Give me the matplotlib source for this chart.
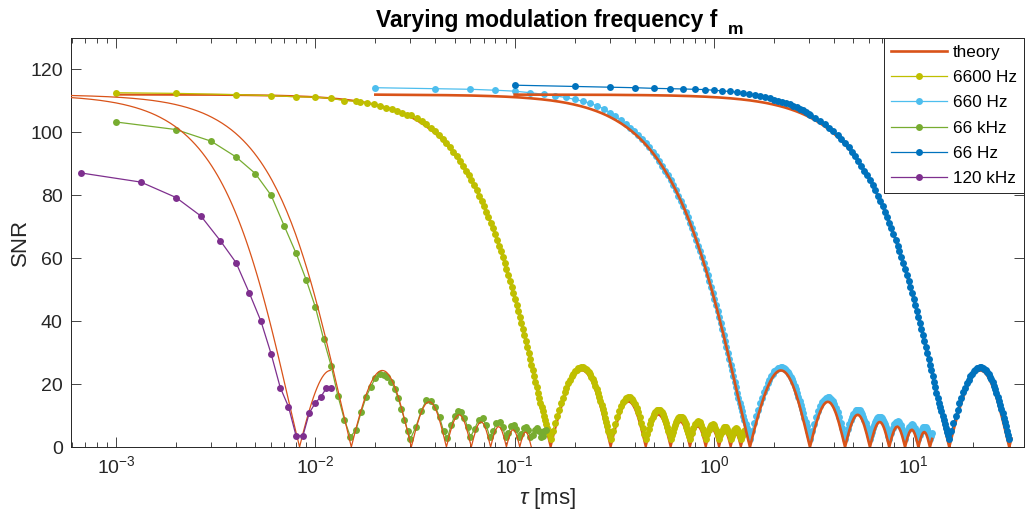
import numpy as np
import matplotlib
matplotlib.use("Agg")
import matplotlib.pyplot as plt
from matplotlib.ticker import FixedLocator, LogLocator, NullFormatter
from matplotlib.lines import Line2D

plt.rcParams['font.family'] = ['Liberation Sans', 'DejaVu Sans']
plt.rcParams['mathtext.fontset'] = 'custom'
plt.rcParams['mathtext.rm'] = 'Liberation Sans'
plt.rcParams['mathtext.it'] = 'Liberation Sans:italic'
plt.rcParams['mathtext.bf'] = 'Liberation Sans:bold'

# ---------------- data ----------------
series_labels = ['6600 Hz', '660 Hz', '66 kHz', '66 Hz', '120 kHz']
freq_khz = [6.6, 0.66, 66.0, 0.066, 120.0]
theory_amp = 112.0

# normalised profile: u = f * tau
prof_u = [0.005, 0.01, 0.02, 0.03, 0.04, 0.05, 0.06, 0.07, 0.08, 0.09,
          0.10, 0.11, 0.12, 0.13, 0.14, 0.15, 0.16, 0.17, 0.18, 0.19,
          0.2, 0.2125, 0.225, 0.2375, 0.25, 0.2625, 0.275, 0.2875,
          0.3, 0.3125, 0.325, 0.3375, 0.35, 0.3625, 0.375, 0.3875,
          0.4, 0.4125, 0.425, 0.4375, 0.45, 0.4625, 0.475, 0.4875,
          0.5, 0.5125, 0.525, 0.5375, 0.55, 0.5625, 0.575, 0.5875,
          0.6, 0.6125, 0.625, 0.6375, 0.65, 0.6625, 0.675, 0.6875,
          0.7, 0.7125, 0.725, 0.7375, 0.75, 0.7625, 0.775, 0.7875,
          0.8, 0.8125, 0.825, 0.8375, 0.85, 0.8625, 0.875, 0.8875,
          0.9, 0.9125, 0.925, 0.9375, 0.95, 0.9625, 0.975, 0.9875, 1.0,
          1.025, 1.05, 1.075, 1.1, 1.125, 1.15, 1.175, 1.2, 1.225, 1.25,
          1.275, 1.3, 1.325, 1.35, 1.375, 1.4, 1.425, 1.45, 1.475, 1.5,
          1.525, 1.55, 1.575, 1.6, 1.625, 1.65, 1.675, 1.7, 1.725, 1.75,
          1.775, 1.8, 1.825, 1.85, 1.875, 1.9, 1.925, 1.95, 1.975, 2.0,
          2.05, 2.1, 2.15, 2.2, 2.25, 2.3, 2.35, 2.4, 2.45, 2.5,
          2.55, 2.6, 2.65, 2.7, 2.75, 2.8, 2.85, 2.9, 2.95, 3.0,
          3.05, 3.1, 3.15, 3.2, 3.25, 3.3, 3.35, 3.4, 3.45, 3.5,
          3.55, 3.6, 3.65, 3.7, 3.75, 3.8, 3.85, 3.9, 3.95, 4.0,
          4.05, 4.1, 4.15, 4.2, 4.25, 4.3, 4.35, 4.4, 4.45, 4.5,
          4.55, 4.6, 4.65, 4.7, 4.75, 4.8, 4.85, 4.9, 4.95, 5.0,
          5.1, 5.2, 5.3, 5.4, 5.5, 5.6, 5.7, 5.8, 5.9, 6.0,
          6.1, 6.2, 6.3, 6.4, 6.5, 6.6, 6.7, 6.8, 6.9, 7.0,
          7.1, 7.2, 7.3, 7.4, 7.5, 7.6, 7.7, 7.8, 7.9, 8.0,
          8.1, 8.2, 8.3, 8.4, 8.5, 8.6, 8.7, 8.8, 8.9, 9.0,
          9.1, 9.2, 9.3, 9.4, 9.5, 9.6]

prof_theory = [112.00, 111.98, 111.93, 111.83, 111.71, 111.54, 111.34, 111.10, 110.82, 110.51,
               110.17, 109.78, 109.37, 108.91, 108.42, 107.90, 107.34, 106.75, 106.13, 105.47,
               104.77, 103.86, 102.90, 101.89, 100.84, 99.73, 98.58, 97.38,
               96.14, 94.86, 93.53, 92.16, 90.76, 89.31, 87.83, 86.32,
               84.77, 83.18, 81.57, 79.92, 78.25, 76.55, 74.82, 73.07,
               71.30, 69.51, 67.70, 65.87, 64.02, 62.16, 60.29, 58.40,
               56.51, 54.61, 52.70, 50.79, 48.87, 46.95, 45.03, 43.12,
               41.20, 39.29, 37.39, 35.50, 33.61, 31.74, 29.88, 28.03,
               26.19, 24.38, 22.58, 20.80, 19.04, 17.31, 15.59, 13.90,
               12.24, 10.61, 9.00, 7.42, 5.87, 4.35, 2.87, 1.42, 0.00,
               2.73, 5.31, 7.74, 10.02, 12.13, 14.07, 15.85, 17.46, 18.90, 20.17,
               21.26, 22.19, 22.94, 23.53, 23.95, 24.22, 24.33, 24.28, 24.10, 23.77,
               23.31, 22.72, 22.01, 21.19, 20.27, 19.25, 18.15, 16.97, 15.72, 14.41,
               13.04, 11.64, 10.21, 8.75, 7.28, 5.80, 4.32, 2.86, 1.42, 0.00,
               2.72, 5.25, 7.53, 9.53, 11.20, 12.54, 13.52, 14.13, 14.37, 14.26,
               13.81, 13.04, 11.99, 10.68, 9.17, 7.48, 5.68, 3.80, 1.89, 0.00,
               1.83, 3.55, 5.14, 6.55, 7.76, 8.74, 9.48, 9.97, 10.21, 10.19,
               9.92, 9.42, 8.70, 7.80, 6.72, 5.51, 4.20, 2.82, 1.41, 0.00,
               1.38, 2.69, 3.90, 4.99, 5.93, 6.71, 7.30, 7.71, 7.91, 7.92,
               7.74, 7.37, 6.83, 6.14, 5.31, 4.37, 3.34, 2.25, 1.13, 0.00,
               2.16, 4.03, 5.44, 6.28, 6.48, 6.05, 5.06, 3.61, 1.87, 0.00,
               1.81, 3.38, 4.58, 5.30, 5.48, 5.14, 4.30, 3.08, 1.60, 0.00,
               1.55, 2.91, 3.95, 4.58, 4.75, 4.46, 3.75, 2.69, 1.39, 0.00,
               1.36, 2.56, 3.47, 4.04, 4.19, 3.94, 3.32, 2.38, 1.24, 0.00,
               1.21, 2.28, 3.10, 3.61, 3.75, 3.53]

prof_meas = [112.00, 111.98, 111.93, 111.83, 111.71, 111.54, 111.34, 111.10, 110.82, 110.51,
             110.17, 109.78, 109.37, 108.91, 108.42, 107.90, 107.34, 106.75, 106.13, 105.47,
             105.57, 104.66, 103.70, 102.59, 101.54, 100.33, 99.18, 97.88,
             96.64, 95.26, 93.83, 92.36, 90.86, 89.31, 87.83, 86.32,
             84.77, 83.18, 81.57, 79.92, 78.25, 76.55, 74.82, 73.07,
             71.30, 69.51, 67.70, 65.87, 64.02, 62.16, 60.29, 58.40,
             56.51, 54.61, 52.70, 50.79, 48.87, 46.95, 45.03, 43.12,
             41.20, 39.29, 37.39, 35.50, 33.61, 31.74, 29.88, 28.03,
             26.19, 24.38, 22.58, 20.80, 19.04, 17.31, 15.59, 14.08,
             12.70, 11.34, 10.00, 8.68, 7.39, 6.13, 4.89, 3.68, 2.50,
             5.06, 7.48, 9.76, 11.90, 13.88, 15.70, 17.37, 18.88, 20.23, 21.42,
             22.45, 23.32, 24.02, 24.58, 24.97, 25.22, 25.33, 25.28, 25.11, 24.80,
             24.37, 23.82, 23.15, 22.38, 21.52, 20.56, 19.53, 18.42, 17.25, 16.02,
             14.74, 13.42, 12.08, 10.71, 9.33, 7.94, 6.55, 5.18, 3.83, 2.50,
             5.03, 7.38, 9.51, 11.37, 12.92, 14.17, 15.08, 15.65, 15.87, 15.77,
             15.35, 14.63, 13.66, 12.44, 11.03, 9.46, 7.78, 6.04, 4.26, 2.50,
             4.19, 5.77, 7.24, 8.54, 9.65, 10.55, 11.24, 11.69, 11.91, 11.89,
             11.64, 11.18, 10.52, 9.69, 8.69, 7.58, 6.37, 5.10, 3.80, 2.50,
             3.74, 4.92, 6.01, 6.99, 7.83, 8.53, 9.06, 9.43, 9.61, 9.62,
             9.46, 9.13, 8.64, 8.02, 7.27, 6.43, 5.50, 4.52, 3.52, 2.50,
             4.39, 6.03, 7.27, 8.01, 8.18, 7.81, 6.94, 5.67, 4.14, 2.50,
             4.05, 5.39, 6.41, 7.03, 7.18, 6.89, 6.17, 5.13, 3.87, 2.50,
             3.79, 4.92, 5.79, 6.31, 6.45, 6.21, 5.62, 4.74, 3.66, 2.50,
             3.60, 4.57, 5.31, 5.77, 5.89, 5.69, 5.19, 4.43, 3.50, 2.50,
             3.45, 4.29, 4.94, 5.34, 5.45, 5.28]

# measured heads (plateau points that sit off the profile)
head_6600_tau = [0.001, 0.002, 0.004, 0.006, 0.008, 0.010, 0.012, 0.014, 0.016]
head_6600_snr = [112.6, 112.4, 112.0, 111.7, 111.3, 111.2, 110.8, 110.1, 109.9]

head_660_tau = [0.02, 0.04, 0.06, 0.08, 0.10, 0.12, 0.14, 0.16, 0.18,
                0.20, 0.22, 0.24, 0.26, 0.28, 0.30, 0.32, 0.34]
head_660_snr = [114.2, 113.9, 113.7, 113.4, 113.1, 112.6, 112.1, 111.6, 111.1,
                110.5, 109.9, 109.2, 108.4, 107.5, 106.3, 105.2, 104.0]

head_66_tau = [0.1, 0.2, 0.3, 0.4, 0.5, 0.6, 0.7, 0.8, 0.9, 1.0,
               1.1, 1.2, 1.3, 1.4, 1.5, 1.6, 1.7, 1.8, 1.9, 2.0,
               2.1, 2.2, 2.3, 2.4, 2.5, 2.6, 2.7, 2.8, 2.9, 3.0]
head_66_snr = [115.0, 114.6, 114.4, 114.2, 114.0, 113.9, 113.8, 113.7, 113.6, 113.4,
               113.2, 113.0, 112.8, 112.5, 112.2, 111.9, 111.6, 111.2, 110.8, 110.4,
               110.0, 109.7, 109.3, 108.9, 108.5, 108.0, 107.5, 107.0, 106.5, 106.0]

tau_66k = [0.001, 0.002, 0.003, 0.004, 0.005, 0.006, 0.007, 0.008, 0.009, 0.010,
           0.011, 0.012, 0.013, 0.014, 0.015, 0.016, 0.017, 0.018, 0.019, 0.020,
           0.021, 0.022, 0.023, 0.024, 0.025, 0.026, 0.027, 0.028, 0.029, 0.030,
           0.032, 0.034, 0.036, 0.038, 0.040, 0.042, 0.044, 0.046, 0.048, 0.050,
           0.052, 0.054, 0.056, 0.058, 0.060,
           0.063, 0.066, 0.069, 0.072, 0.075, 0.078, 0.081, 0.084, 0.087, 0.090,
           0.093, 0.096, 0.099, 0.102, 0.105, 0.108, 0.111, 0.114, 0.117, 0.120,
           0.123, 0.126, 0.129, 0.132, 0.135, 0.138, 0.141, 0.144]
snr_66k = [103.3, 100.9, 97.2, 92.2, 86.9, 80.0, 70.1, 61.6, 53.1, 44.5,
           34.3, 25.8, 16.1, 8.6, 3.2, 5.5, 11.2, 16.0, 19.2, 21.9,
           23.3, 23.0, 22.3, 20.8, 18.5, 15.6, 12.2, 8.7, 5.2, 2.6,
           6.5, 11.5, 14.8, 14.6, 12.8, 9.5, 5.0, 2.8, 7.0, 9.8,
           11.4, 11.0, 9.3, 6.3, 3.2,
           5.8, 8.7, 9.1, 6.9, 3.2, 5.0, 7.5, 8.0, 6.3, 3.1,
           4.4, 6.6, 7.1, 5.8, 3.2, 4.0, 6.0, 6.5, 5.4, 3.2,
           3.7, 5.5, 6.0, 5.1, 3.1, 3.5, 5.0, 5.5]

tau_120k = [0.000667, 0.001333, 0.002, 0.002667, 0.003333, 0.004, 0.004667, 0.005333, 0.006,
            0.006667, 0.007333, 0.008, 0.008667, 0.009333, 0.010, 0.010667, 0.011333, 0.012]
snr_120k = [87.1, 84.2, 79.3, 73.4, 65.6, 58.6, 48.9, 40.0, 29.6,
            18.9, 12.8, 3.6, 3.6, 10.9, 14.0, 16.0, 18.6, 18.6]

# extent of each curve in normalised units (u_lo exclusive, u_hi inclusive)
theory_start_tau = [0.001, 0.02, None, 0.1, None]
theory_u_lo = [0.0066, 0.0132, 0.025, 0.0066, 0.045]
theory_u_hi = [9.5, 8.25, 8.0, 2.05, 1.44]
meas_u_lo = [0.106, 0.23, None, 0.198, None]
meas_u_hi = [9.5, 8.25, None, 2.0, None]

# ---------------- style ----------------
theory_color = '#D95319'
series_colors = ['#BFBF00', '#4DBEEE', '#77AC30', '#0072BD', '#7E2F8E']
theory_lw = [1.5, 1.9, 0.9, 1.9, 0.9]
theory_z = [2, 5, 7, 8, 10]
data_z = [3, 4, 6, 9, 11]
MS = 5.0

PU = np.array(prof_u)
PT = np.array(prof_theory)
PM = np.array(prof_meas)
assert len(PU) == len(PT) == len(PM)


def prof_slice(vals, f, lo, hi):
    m = (PU > lo) & (PU <= hi + 1e-9)
    return PU[m] / f, vals[m]


fig = plt.figure(figsize=(10.31, 5.26), dpi=100)
ax = fig.add_axes([71 / 1031, 1 - 447 / 526, (1024 - 71) / 1031, (447 - 38) / 526])

# theory curves
for i, f in enumerate(freq_khz):
    t, s = prof_slice(PT, f, theory_u_lo[i], theory_u_hi[i])
    if theory_start_tau[i] is not None:
        t = np.concatenate([[theory_start_tau[i]], t])
        s = np.concatenate([[theory_amp], s])
    ax.plot(t, s, color=theory_color, lw=theory_lw[i], zorder=theory_z[i],
            solid_joinstyle='round')

# measured curves
heads = {0: (head_6600_tau, head_6600_snr), 1: (head_660_tau, head_660_snr),
         3: (head_66_tau, head_66_snr)}
explicit = {2: (tau_66k, snr_66k), 4: (tau_120k, snr_120k)}
for i, f in enumerate(freq_khz):
    if i in heads:
        ht, hs = heads[i]
        t, s = prof_slice(PM, f, meas_u_lo[i], meas_u_hi[i])
        t = np.concatenate([ht, t])
        s = np.concatenate([hs, s])
    else:
        t, s = explicit[i]
    ax.plot(t, s, color=series_colors[i], lw=0.9, marker='o', ms=MS,
            markeredgewidth=0, zorder=data_z[i])

ax.set_xscale('log')
ax.set_xlim(5.944e-4, 35.93)
ax.set_ylim(0, 130)
ax.xaxis.set_major_locator(FixedLocator([1e-3, 1e-2, 1e-1, 1, 10]))
ax.set_xticklabels([r'$10^{-3}$', r'$10^{-2}$', r'$10^{-1}$', r'$10^{0}$', r'$10^{1}$'])
ax.xaxis.set_minor_locator(LogLocator(base=10, subs=np.arange(2, 10), numticks=30))
ax.xaxis.set_minor_formatter(NullFormatter())
ax.set_yticks([0, 20, 40, 60, 80, 100, 120])

dark = '#262626'
for sp in ax.spines.values():
    sp.set_color(dark)
    sp.set_linewidth(0.7)
ax.tick_params(which='both', direction='in', top=True, right=True, color=dark,
               labelcolor=dark)
ax.tick_params(which='major', length=7.2, width=0.6, labelsize=14, pad=6)
ax.tick_params(which='minor', length=3.6, width=0.6)

ax.set_ylabel('SNR', fontsize=16, color=dark, labelpad=-1)
ax.set_xlabel(r'$\tau$ [ms]', fontsize=16, color=dark, labelpad=6)

fig.text(717 / 1031, 1 - 26.7 / 526, 'Varying modulation frequency f', ha='right',
         va='baseline', fontsize=16.5, fontweight='bold', color='black')
fig.text(727.7 / 1031, 1 - 34 / 526, 'm', ha='left', va='baseline', fontsize=12.5,
         fontweight='bold', color='black')

handles = [Line2D([], [], color=theory_color, lw=1.9)]
for c in series_colors:
    handles.append(Line2D([], [], color=c, lw=0.9, marker='o', ms=MS, markeredgewidth=0))
leg = ax.legend(handles, ['theory'] + series_labels, loc='upper right',
                bbox_to_anchor=(1, 1), borderaxespad=0, fancybox=False,
                edgecolor=dark, framealpha=1, fontsize=12.3, handlelength=3.3,
                handletextpad=0.35, labelspacing=0.6, borderpad=0.4)
leg.get_frame().set_linewidth(0.7)
leg.set_zorder(20)

fig.savefig('out.png', dpi=100)
